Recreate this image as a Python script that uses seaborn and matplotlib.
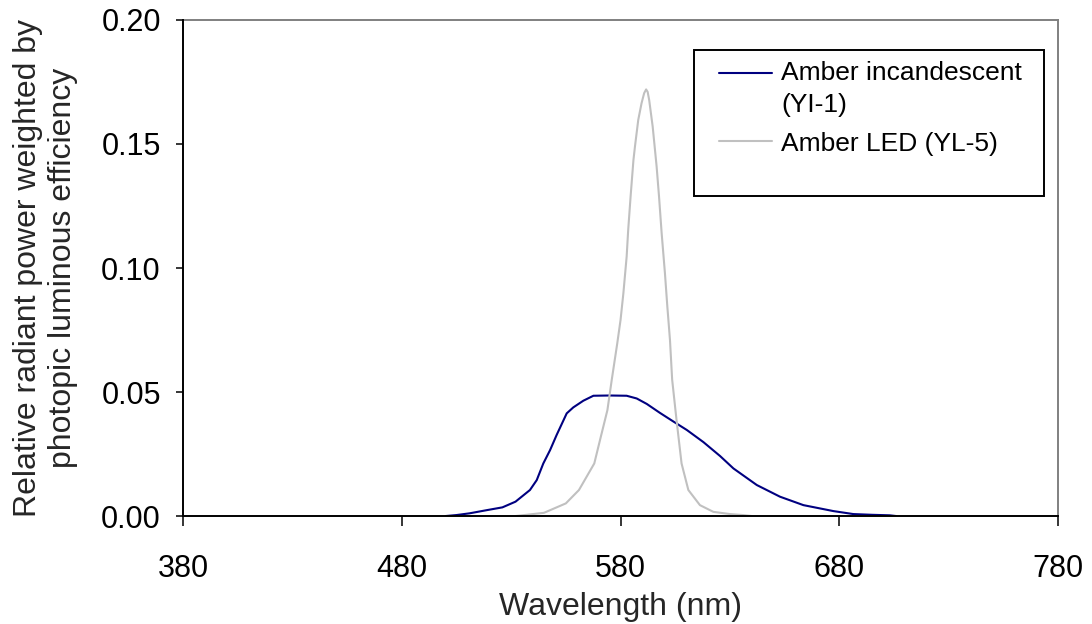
import numpy as np
import pandas as pd
import matplotlib
matplotlib.use("Agg")
import matplotlib.pyplot as plt
from matplotlib.patches import Rectangle
from matplotlib.legend_handler import HandlerLine2D
import seaborn as sns

# Spectral power weighted by photopic luminous efficiency
inc_wavelength = [500, 505, 511, 519, 526, 532, 538.6, 541.7, 544.7, 547.8, 550.8,
                  555.4, 558.4, 563, 567.6, 575, 582.8, 587.4, 592, 598, 604, 610.3,
                  617.9, 625.5, 631.6, 642.3, 652.9, 663.6, 677.3, 686.4, 695, 703,
                  706]
inc_power = [0.0, 0.0004, 0.0011, 0.0024, 0.0035, 0.0058, 0.0105, 0.0145, 0.0212,
             0.0266, 0.0327, 0.0414, 0.0438, 0.0465, 0.0485, 0.0486, 0.0485, 0.0474,
             0.0452, 0.0416, 0.0382, 0.0347, 0.0298, 0.0242, 0.0192, 0.0125, 0.0078,
             0.0044, 0.002, 0.0008, 0.0005, 0.0003, 0.0]

led_wavelength = [532, 545, 555, 561, 568, 571, 574, 576, 578.5, 580, 581.3, 582.8,
                  583.5, 584.6, 585.9, 586.6, 588.1, 589.6, 590.8, 591.7, 592.4,
                  593.1, 594.7, 596.5, 597.6, 598.8, 600.3, 601.4, 602.6, 603.6,
                  605.6, 607.9, 611, 616.3, 622.4, 630, 636, 640]
led_power = [0.0, 0.0013, 0.0051, 0.0105, 0.0212, 0.032, 0.0427, 0.055, 0.0696,
             0.079, 0.0898, 0.1046, 0.1153, 0.1288, 0.1435, 0.149, 0.1597, 0.1664,
             0.1705, 0.172, 0.171, 0.1677, 0.157, 0.1409, 0.1288, 0.114, 0.0979,
             0.0844, 0.071, 0.055, 0.0387, 0.0212, 0.0105, 0.0044, 0.0017, 0.0008,
             0.0004, 0.0]

series_labels = ["Amber incandescent\n(YI-1)", "Amber LED (YL-5)"]
series_colors = ["#000080", "#c0c0c0"]
x_ticks = [380, 480, 580, 680, 780]
y_ticks = [0.00, 0.05, 0.10, 0.15, 0.20]

sns.set_style("white")
plt.rcParams["font.family"] = ["Liberation Sans", "DejaVu Sans"]

fig = plt.figure(figsize=(10.92, 6.24), dpi=100)
ax = fig.add_axes([0.1676, 0.173, 0.8013, 0.795])

inc_df = pd.DataFrame({"wavelength": inc_wavelength, "power": inc_power})
led_df = pd.DataFrame({"wavelength": led_wavelength, "power": led_power})

sns.lineplot(data=inc_df, x="wavelength", y="power", ax=ax, color=series_colors[0],
             linewidth=1.5, label=series_labels[0], sort=False)
sns.lineplot(data=led_df, x="wavelength", y="power", ax=ax, color=series_colors[1],
             linewidth=1.5, label=series_labels[1], sort=False)

ax.set_xlim(380, 780)
ax.set_ylim(0, 0.20)
ax.set_xticks(x_ticks)
ax.set_xticklabels([str(v) for v in x_ticks])
ax.set_yticks(y_ticks)
ax.set_yticklabels([f"{v:.2f}" for v in y_ticks])

ax.tick_params(axis="x", direction="out", length=7, width=1.1, pad=20,
               labelsize=22, colors="black", bottom=True)
ax.tick_params(axis="y", direction="out", length=5, width=1.1, pad=11,
               labelsize=22, colors="black", left=True)

for side in ["left", "bottom"]:
    ax.spines[side].set_color("black")
    ax.spines[side].set_linewidth(1.4)
    ax.spines[side].set_zorder(5)
for side in ["top", "right"]:
    ax.spines[side].set_color("#808080")
    ax.spines[side].set_linewidth(1.4)

ax.set_xlabel("Wavelength (nm)", fontsize=23, labelpad=6)
ax.set_ylabel("Relative radiant power weighted by\nphotopic luminous efficiency",
              fontsize=23, linespacing=1.2)
ax.yaxis.set_label_coords(-0.12, 0.5)


class FirstLineHandler(HandlerLine2D):
    """Place the legend line level with the first text line of its label."""

    def __init__(self, shift, **kw):
        super().__init__(**kw)
        self.shift = shift

    def create_artists(self, legend, orig_handle, xdescent, ydescent, width,
                       height, fontsize, trans):
        artists = super().create_artists(legend, orig_handle, xdescent, ydescent,
                                         width, height, fontsize, trans)
        for a in artists:
            a.set_ydata(np.asarray(a.get_ydata(), dtype=float) + self.shift * fontsize)
        return artists


handles, labels = ax.get_legend_handles_labels()
ax.add_patch(Rectangle((0.584, 0.645), 0.40, 0.2945, transform=ax.transAxes,
                       facecolor="white", edgecolor="black", linewidth=1.4,
                       zorder=6, clip_on=False))
leg = ax.legend(handles, labels, loc="upper left", bbox_to_anchor=(0.613, 0.918),
                frameon=False, fontsize=19, handlelength=2.0, handletextpad=0.35,
                borderpad=0.0, borderaxespad=0.0, labelspacing=0.55,
                handler_map={handles[0]: FirstLineHandler(0.6)})
for t in leg.get_texts():
    t.set_linespacing(1.45)
    t.set_color("black")
leg.set_zorder(7)

fig.savefig("out.png", dpi=100)
